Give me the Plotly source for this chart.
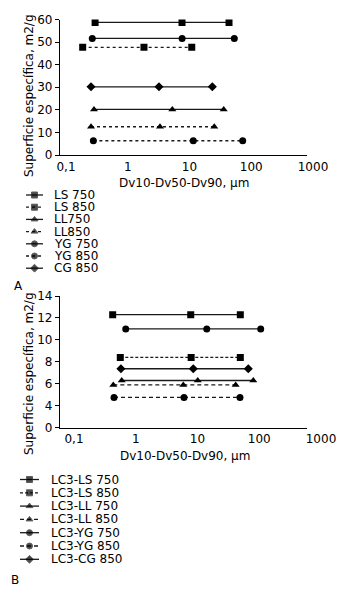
import plotly.graph_objects as go

W, H = 355, 598

# ---------------- Data: chart A ----------------
a_names = ["LS 750", "LS 850", "LL750", "LL850", "YG 750", "YG 850", "CG 850"]
a_area = [58.7, 47.7, 20.2, 12.5, 51.6, 6.3, 30.2]
a_dv10 = [0.37, 0.233, 0.355, 0.318, 0.333, 0.347, 0.318]
a_dv50 = [9.46, 2.29, 6.59, 4.16, 9.5, 14.4, 4.01]
a_dv90 = [54.6, 13.6, 44.8, 31.5, 66.5, 90.9, 29.3]

# ---------------- Data: chart B ----------------
b_names = ["LC3-LS 750", "LC3-LS 850", "LC3-LL 750", "LC3-LL 850",
           "LC3-YG 750", "LC3-YG 850", "LC3-CG 850"]
b_area = [12.3, 8.4, 6.3, 5.9, 11.0, 4.76, 7.37]
b_dv10 = [0.713, 0.947, 0.998, 0.73, 1.16, 0.749, 0.97]
b_dv50 = [13.1, 13.3, 17.0, 9.93, 23.8, 10.2, 14.4]
b_dv90 = [83.2, 83.2, 135, 70, 178, 82.2, 112]

# tick labels
x_tickvals = [0.1, 1, 10, 100, 1000]
x_ticktext = ["0,1", "1", "10", "100", "1000"]
a_ytickvals = [0, 10, 20, 30, 40, 50, 60]
b_ytickvals = [2, 4, 6, 8, 10, 12, 14]
b_ticktext = ["0", "4", "6", "8", "10", "12", "14"]

# ---------------- Styles ----------------
FONT = "DejaVu Sans"
symbols = ["square", "square", "triangle-up", "triangle-up", "circle", "circle", "diamond"]
msizes = [7, 7, 7, 7, 7, 7, 7]
a_dash = ["solid", "3px,3px", "solid", "3px,3px", "solid", "3px,3px", "solid"]
b_dash = ["solid", "3px,2px", "solid", "4px,3px", "solid", "4px,3px", "solid"]


def px(x):
    return x / W


def py(y):
    return 1 - y / H


fig = go.Figure()

for i, n in enumerate(a_names):
    fig.add_trace(go.Scatter(
        x=[a_dv10[i], a_dv50[i], a_dv90[i]], y=[a_area[i]] * 3,
        mode="lines+markers", name=n, xaxis="x", yaxis="y",
        line=dict(color="#1a1a1a", width=1.3, dash=a_dash[i]),
        marker=dict(symbol=symbols[i], size=msizes[i], color="black"),
        showlegend=False))

for i, n in enumerate(b_names):
    fig.add_trace(go.Scatter(
        x=[b_dv10[i], b_dv50[i], b_dv90[i]], y=[b_area[i]] * 3,
        mode="lines+markers", name=n, xaxis="x2", yaxis="y2",
        line=dict(color="#1a1a1a", width=1.3, dash=b_dash[i]),
        marker=dict(symbol=symbols[i], size=msizes[i], color="black"),
        showlegend=False))

# ---------------- Custom compact legends (on a pixel-space overlay axis) ----------------
annotations = []
TXT = dict(family=FONT, size=12, color="black")


def legend_block(names, dashes, x0, x1, xt, y0, step):
    for i, n in enumerate(names):
        yc = y0 + step * i
        fig.add_trace(go.Scatter(
            x=[x0, (x0 + x1) / 2, x1], y=[yc] * 3, mode="lines+markers",
            xaxis="x3", yaxis="y3", showlegend=False, hoverinfo="skip",
            line=dict(color="#1a1a1a", width=1.3, dash=dashes[i]),
            marker=dict(symbol=symbols[i], size=[0, msizes[i] - 1, 0], color="black")))
        annotations.append(dict(
            x=xt, y=yc, xref="x3", yref="y3", text=n, showarrow=False,
            xanchor="left", yanchor="middle", font=TXT))


legend_block(a_names, a_dash, 26, 43, 52, 195, 12.2)
legend_block(b_names, b_dash, 20, 39, 48.5, 479.5, 13.3)


def label(x, y, text, angle=0):
    return dict(x=px(x), y=py(y), xref="paper", yref="paper", text=text,
                showarrow=False, textangle=angle, xanchor="center", yanchor="middle",
                font=TXT)


# axis titles & panel labels
annotations += [
    label(184, 183, "Dv10-Dv50-Dv90, μm"),
    label(185, 456, "Dv10-Dv50-Dv90, μm"),
    label(29, 96, "Superficie específica, m2/g", -90),
    label(29, 374, "Superficie específica, m2/g", -90),
    label(18, 286, "A"),
    label(15, 580, "B"),
]

xdom = [px(60), px(307)]
common_x = dict(type="log", range=[-1, 3], domain=xdom, showline=True, linecolor="black",
                linewidth=1.2, showgrid=False, zeroline=False, ticks="", automargin=False,
                tickvals=x_tickvals, ticktext=x_ticktext, tickfont=TXT)
common_y = dict(showline=True, linecolor="black", linewidth=1.2, showgrid=False,
                zeroline=False, ticks="outside", ticklen=4, tickcolor="black", automargin=False,
                tickfont=TXT)

fig.update_layout(
    template="none",
    width=W, height=H, margin=dict(l=0, r=0, t=0, b=0, pad=0), autosize=False,
    paper_bgcolor="white", plot_bgcolor="rgba(0,0,0,0)",
    font=TXT,
    showlegend=False,
    xaxis=dict(**common_x, anchor="y", ticklabelshift=6),
    yaxis=dict(**common_y, anchor="x", range=[0, 60], tickvals=a_ytickvals,
               domain=[py(155), py(19.5)]),
    xaxis2=dict(**common_x, anchor="y2", ticklabelshift=14),
    yaxis2=dict(**common_y, anchor="x2", range=[2, 14], tickvals=b_ytickvals,
                ticktext=b_ticktext, domain=[py(427.7), py(296)]),
    xaxis3=dict(domain=[0, 1], range=[0, W], visible=False, anchor="y3", fixedrange=True,
                automargin=False),
    yaxis3=dict(domain=[0, 1], range=[H, 0], visible=False, anchor="x3", fixedrange=True,
                automargin=False),
    annotations=annotations,
)

fig.write_html("out.html", config={"displayModeBar": False},
               post_script="document.body.style.margin='0';document.body.style.padding='0';")
